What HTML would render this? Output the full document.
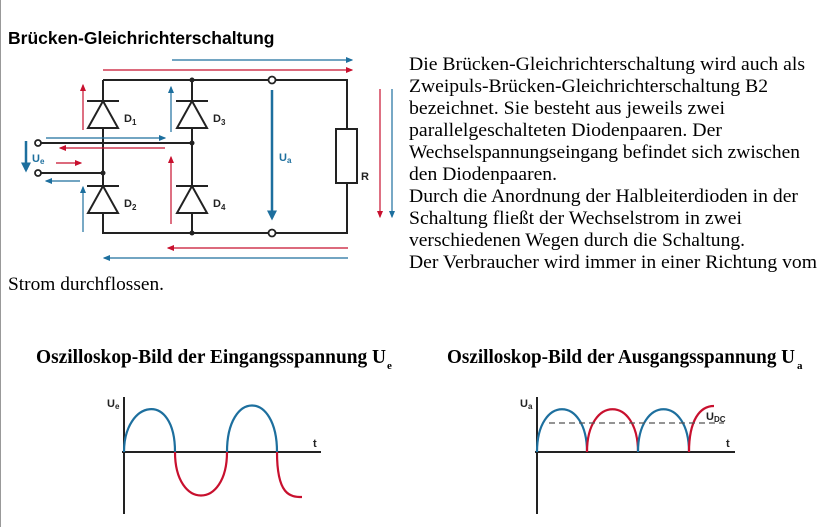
<!DOCTYPE html>
<html><head><meta charset="utf-8"><style>
html,body{margin:0;padding:0;background:#fff;width:832px;height:527px;overflow:hidden}
svg{display:block}
.t{font-family:"Liberation Serif",serif;font-size:18.5px;fill:#000}
.s{font-family:"Liberation Sans",sans-serif;font-weight:bold;fill:#222}
</style></head><body>
<svg width="832" height="527" viewBox="0 0 832 527" xmlns="http://www.w3.org/2000/svg">
<defs>
<marker id="ab" markerWidth="6" markerHeight="6" refX="5" refY="3" orient="auto"><path d="M0,0.5 L6,3 L0,5.5z" fill="#1d6f9e"/></marker>
<marker id="ar" markerWidth="6" markerHeight="6" refX="5" refY="3" orient="auto"><path d="M0,0.5 L6,3 L0,5.5z" fill="#c8102e"/></marker>
<marker id="abig" markerWidth="4" markerHeight="4" refX="3" refY="2" orient="auto"><path d="M0,0 L4,2 L0,4z" fill="#1d6f9e"/></marker>
</defs>
<line x1="0.5" y1="0" x2="0.5" y2="527" stroke="#999"/>
<text x="8" y="44" font-family="Liberation Sans,sans-serif" font-weight="bold" font-size="17.5">Brücken-Gleichrichterschaltung</text>
<g stroke="#222" stroke-width="2" fill="none">
<path d="M103,80 H347 V129 M347,183 V233 H103 V80"/>
<line x1="192" y1="80" x2="192" y2="233"/>
<rect x="336" y="129" width="21" height="54" fill="#fff"/>
<line x1="41" y1="143" x2="192" y2="143"/>
<line x1="41" y1="173" x2="103" y2="173"/>
</g>
<g fill="#fff" stroke="#222" stroke-width="1.8">
<circle cx="272" cy="80" r="3.5"/><circle cx="272" cy="233" r="3.5"/>
<circle cx="38" cy="143" r="3"/><circle cx="38" cy="173" r="3"/>
</g>
<g fill="#222">
<circle cx="192" cy="80" r="2.5"/><circle cx="192" cy="233" r="2.5"/><circle cx="192" cy="143" r="2.5"/><circle cx="103" cy="173" r="2.5"/>
</g>
<g stroke="#222" stroke-width="2" fill="#fff">
<path d="M88,128 L118,128 L103,101z"/><line x1="87" y1="101" x2="119" y2="101"/>
<path d="M88,213 L118,213 L103,186z"/><line x1="87" y1="186" x2="119" y2="186"/>
<path d="M177,128 L207,128 L192,101z"/><line x1="176" y1="101" x2="208" y2="101"/>
<path d="M177,213 L207,213 L192,186z"/><line x1="176" y1="186" x2="208" y2="186"/>
</g>
<g class="s" font-size="11">
<text x="124" y="122">D<tspan font-size="8" dy="3">1</tspan></text>
<text x="124" y="207">D<tspan font-size="8" dy="3">2</tspan></text>
<text x="213" y="122">D<tspan font-size="8" dy="3">3</tspan></text>
<text x="213" y="207">D<tspan font-size="8" dy="3">4</tspan></text>
<text x="361" y="180">R</text>
</g>
<g class="s" font-size="11">
<text x="32" y="162" fill="#1d6f9e">U<tspan font-size="8" dy="2">e</tspan></text>
<text x="279" y="161" fill="#1d6f9e">U<tspan font-size="8" dy="2">a</tspan></text>
</g>
<g stroke-width="1.2">
<line x1="172" y1="60" x2="352" y2="60" stroke="#1d6f9e" marker-end="url(#ab)"/>
<line x1="103" y1="70" x2="352" y2="70" stroke="#c8102e" marker-end="url(#ar)"/>
<line x1="83" y1="130" x2="83" y2="85" stroke="#c8102e" marker-end="url(#ar)"/>
<line x1="171" y1="132" x2="171" y2="87" stroke="#1d6f9e" marker-end="url(#ab)"/>
<line x1="46" y1="138" x2="165" y2="138" stroke="#1d6f9e" marker-end="url(#ab)"/>
<line x1="165" y1="148" x2="60" y2="148" stroke="#c8102e" marker-end="url(#ar)"/>
<line x1="56" y1="163" x2="81" y2="163" stroke="#c8102e" marker-end="url(#ar)"/>
<line x1="80" y1="181" x2="46" y2="181" stroke="#1d6f9e" marker-end="url(#ab)"/>
<line x1="83" y1="232" x2="83" y2="187" stroke="#1d6f9e" marker-end="url(#ab)"/>
<line x1="171" y1="224" x2="171" y2="157" stroke="#c8102e" marker-end="url(#ar)"/>
<line x1="380" y1="89" x2="380" y2="217" stroke="#c8102e" marker-end="url(#ar)"/>
<line x1="392" y1="89" x2="392" y2="217" stroke="#1d6f9e" marker-end="url(#ab)"/>
<line x1="348" y1="248" x2="168" y2="248" stroke="#c8102e" marker-end="url(#ar)"/>
<line x1="348" y1="258" x2="104" y2="258" stroke="#1d6f9e" marker-end="url(#ab)"/>
</g>
<line x1="26" y1="141" x2="26" y2="170" stroke="#1d6f9e" stroke-width="2.5" marker-end="url(#abig)"/>
<line x1="272" y1="90" x2="272" y2="218" stroke="#1d6f9e" stroke-width="2.5" marker-end="url(#abig)"/>
<g class="t">
<text x="409" y="70" textLength="396" lengthAdjust="spacingAndGlyphs">Die Brücken-Gleichrichterschaltung wird auch als</text>
<text x="409" y="92" textLength="359" lengthAdjust="spacingAndGlyphs">Zweipuls-Brücken-Gleichrichterschaltung B2</text>
<text x="409" y="114" textLength="316" lengthAdjust="spacingAndGlyphs">bezeichnet. Sie besteht aus jeweils zwei</text>
<text x="409" y="136" textLength="313" lengthAdjust="spacingAndGlyphs">parallelgeschalteten Diodenpaaren. Der</text>
<text x="409" y="158" textLength="391" lengthAdjust="spacingAndGlyphs">Wechselspannungseingang befindet sich zwischen</text>
<text x="409" y="180" textLength="148" lengthAdjust="spacingAndGlyphs">den Diodenpaaren.</text>
<text x="409" y="202" textLength="389" lengthAdjust="spacingAndGlyphs">Durch die Anordnung der Halbleiterdioden in der</text>
<text x="409" y="224" textLength="333" lengthAdjust="spacingAndGlyphs">Schaltung fließt der Wechselstrom in zwei</text>
<text x="409" y="246" textLength="336" lengthAdjust="spacingAndGlyphs">verschiedenen Wegen durch die Schaltung.</text>
<text x="409" y="268" textLength="408" lengthAdjust="spacingAndGlyphs">Der Verbraucher wird immer in einer Richtung vom</text>
<text x="8" y="290" textLength="156" lengthAdjust="spacingAndGlyphs">Strom durchflossen.</text>
</g>
<g font-family="Liberation Serif,serif" font-weight="bold" font-size="20" fill="#000">
<text x="36" y="363" textLength="350" lengthAdjust="spacingAndGlyphs">Oszilloskop-Bild der Eingangsspannung U</text>
<text x="387" y="369" font-size="11">e</text>
<text x="447" y="363" textLength="348" lengthAdjust="spacingAndGlyphs">Oszilloskop-Bild der Ausgangsspannung U</text>
<text x="797" y="369" font-size="11">a</text>
</g>
<g stroke="#222" stroke-width="2"><line x1="124" y1="397" x2="124" y2="514"/><line x1="122" y1="452" x2="321" y2="452"/>
<line x1="537" y1="397" x2="537" y2="514"/><line x1="535" y1="452" x2="735" y2="452"/></g>
<g fill="none" stroke-width="2.2">
<path d="M124,452 C124,400 175,390 175,452" stroke="#1d6f9e"/>
<path d="M175,452 C175,510 227,510 227,452" stroke="#c8102e"/>
<path d="M227,452 C227,390 277,390 277,452" stroke="#1d6f9e"/>
<path d="M277,452 C277,495 290,497 302,497" stroke="#c8102e"/>
<path d="M537,452 C537,395 587,395 587,452" stroke="#1d6f9e"/>
<path d="M587,452 C587,395 638,395 638,452" stroke="#c8102e"/>
<path d="M638,452 C638,395 689,395 689,452" stroke="#1d6f9e"/>
<path d="M689,452 C689,420 700,406 714,406" stroke="#c8102e"/>
</g>
<line x1="549" y1="423" x2="724" y2="423" stroke="#555" stroke-width="1.3" stroke-dasharray="6,4"/>
<g class="s" font-size="11" fill="#333">
<text x="107" y="407">U<tspan font-size="8" dy="2">e</tspan></text>
<text x="313" y="447">t</text>
<text x="520" y="407">U<tspan font-size="8" dy="2">a</tspan></text>
<text x="726" y="447">t</text>
<text x="706" y="420">U<tspan font-size="8" dy="2">DC</tspan></text>
</g>
</svg>
</body></html>
